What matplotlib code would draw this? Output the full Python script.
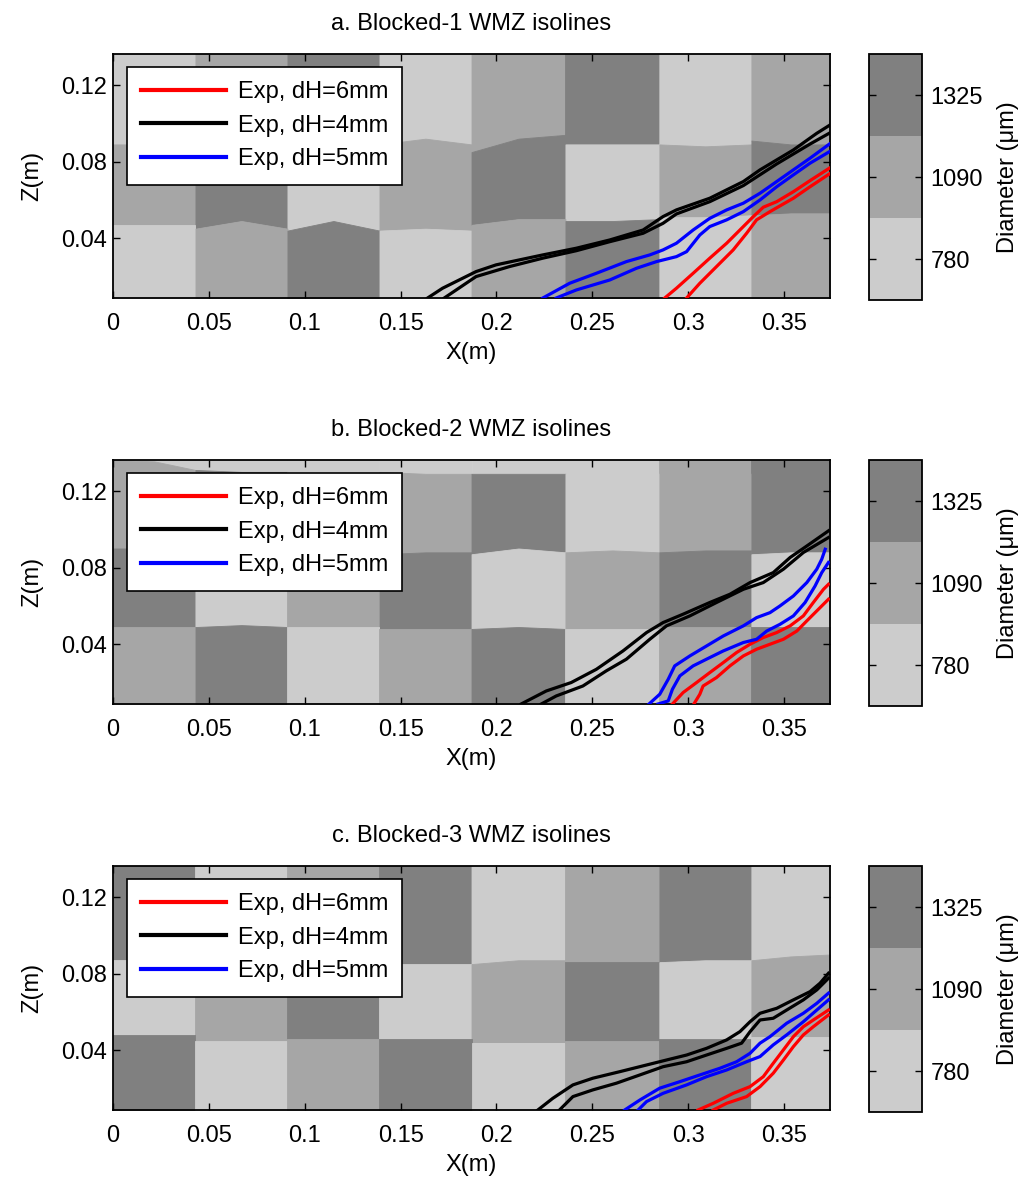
import numpy as np
import matplotlib
matplotlib.use("Agg")
import matplotlib.pyplot as plt
from matplotlib.colors import ListedColormap, BoundaryNorm
from matplotlib.cm import ScalarMappable

plt.rcParams['font.family'] = ['Liberation Sans', 'DejaVu Sans']

# grain diameter classes (light -> dark)
GRAYS = ['#cccccc', '#a6a6a6', '#808080']
CLASS_LABELS = ['780', '1090', '1325']

X_EDGES = [0, 0.043, 0.091, 0.139, 0.187, 0.236, 0.285, 0.333, 0.374]
Z_LIM = (0.0088, 0.1362)
X_TICKS = [0, 0.05, 0.1, 0.15, 0.2, 0.25, 0.3, 0.35]
X_TICKLABELS = ['0', '0.05', '0.1', '0.15', '0.2', '0.25', '0.3', '0.35']
Z_TICKS = [0.04, 0.08, 0.12]
Z_TICKLABELS = ['0.04', '0.08', '0.12']

TITLES = ['a. Blocked-1 WMZ isolines', 'b. Blocked-2 WMZ isolines', 'c. Blocked-3 WMZ isolines']
LEGEND_LABELS = ['Exp, dH=6mm', 'Exp, dH=4mm', 'Exp, dH=5mm']

# ---- panel a : block classes (rows top -> bottom) and row boundaries (left, mid, right of each column)
A_ROWS = [[0, 1, 2, 0, 1, 2, 0, 1],
          [1, 2, 0, 1, 2, 0, 1, 2],
          [0, 1, 2, 0, 1, 2, 0, 1]]
A_BOUNDS = [
    [(0.089, 0.089, 0.088), (0.088, 0.091, 0.089), (0.088, 0.091, 0.089), (0.089, 0.092, 0.089),
     (0.085, 0.092, 0.094), (0.089, 0.089, 0.089), (0.089, 0.088, 0.089), (0.091, 0.089, 0.089)],
    [(0.047, 0.047, 0.047), (0.045, 0.049, 0.045), (0.044, 0.049, 0.044), (0.044, 0.045, 0.044),
     (0.047, 0.050, 0.050), (0.049, 0.049, 0.050), (0.051, 0.051, 0.052), (0.052, 0.053, 0.053)],
]

# ---- panel b (thin light band on top of columns 0-4)
B_ROWS = [[0, 0, 0, 0, 0, 0, 1, 2],
          [1, 2, 0, 1, 2, 0, 1, 2],
          [2, 0, 1, 2, 0, 1, 2, 0],
          [1, 2, 0, 1, 2, 0, 1, 2]]
B_BOUNDS = [
    [(0.1362, 0.1355, 0.131), (0.131, 0.130, 0.130), (0.130, 0.130, 0.130), (0.130, 0.129, 0.129),
     (0.129, 0.129, 0.129), (0.129, 0.129, 0.129), (0.129, 0.129, 0.129), (0.129, 0.129, 0.129)],
    [(0.090, 0.090, 0.089), (0.089, 0.089, 0.089), (0.088, 0.088, 0.088), (0.087, 0.088, 0.088),
     (0.087, 0.090, 0.088), (0.088, 0.089, 0.088), (0.088, 0.089, 0.089), (0.087, 0.088, 0.088)],
    [(0.049, 0.049, 0.049), (0.049, 0.050, 0.049), (0.049, 0.049, 0.049), (0.048, 0.048, 0.048),
     (0.048, 0.049, 0.048), (0.048, 0.048, 0.048), (0.049, 0.049, 0.049), (0.049, 0.049, 0.049)],
]

# ---- panel c
C_ROWS = [[2, 0, 1, 2, 0, 1, 2, 0],
          [0, 1, 2, 0, 1, 2, 0, 1],
          [2, 0, 1, 2, 0, 1, 2, 0]]
C_BOUNDS = [
    [(0.087, 0.087, 0.087), (0.088, 0.088, 0.088), (0.087, 0.087, 0.087), (0.085, 0.085, 0.085),
     (0.085, 0.087, 0.087), (0.086, 0.086, 0.086), (0.086, 0.087, 0.087), (0.087, 0.089, 0.090)],
    [(0.048, 0.048, 0.048), (0.045, 0.045, 0.045), (0.046, 0.046, 0.046), (0.046, 0.046, 0.046),
     (0.044, 0.044, 0.044), (0.045, 0.045, 0.045), (0.046, 0.046, 0.046), (0.047, 0.047, 0.047)],
]

# ---- isolines (x, z)
A_RED_1 = [(0.2878, 0.0088), (0.2939, 0.0139), (0.3026, 0.0217), (0.3113, 0.0296), (0.3201, 0.0374),
           (0.3288, 0.0461), (0.3340, 0.0513), (0.3392, 0.0562), (0.3462, 0.0591), (0.3549, 0.0643),
           (0.3636, 0.0701), (0.3737, 0.0766)]
A_RED_2 = [(0.2992, 0.0088), (0.3061, 0.0165), (0.3148, 0.0252), (0.3235, 0.0339), (0.3305, 0.0426),
           (0.3357, 0.0496), (0.3427, 0.0539), (0.3549, 0.0609), (0.3636, 0.0669), (0.3737, 0.0736)]
A_BLACK_1 = [(0.1641, 0.0088), (0.1719, 0.0139), (0.1894, 0.0226), (0.1998, 0.0261), (0.2242, 0.0313),
             (0.2417, 0.0348), (0.2591, 0.0391), (0.2765, 0.0443), (0.2869, 0.0513), (0.2939, 0.0548),
             (0.3113, 0.0609), (0.3288, 0.0696), (0.3375, 0.0757), (0.3549, 0.0861), (0.3671, 0.0948),
             (0.3741, 0.0992)]
A_BLACK_2 = [(0.1728, 0.0088), (0.1894, 0.0200), (0.2068, 0.0252), (0.2242, 0.0296), (0.2417, 0.0335),
             (0.2591, 0.0382), (0.2765, 0.0426), (0.2869, 0.0478), (0.2939, 0.0527), (0.3113, 0.0591),
             (0.3288, 0.0675), (0.3462, 0.0788), (0.3636, 0.0892), (0.3741, 0.0951)]
A_BLUE_1 = [(0.2242, 0.0088), (0.2382, 0.0165), (0.2521, 0.0217), (0.2678, 0.0278), (0.2800, 0.0313),
            (0.2869, 0.0339), (0.2939, 0.0374), (0.3026, 0.0443), (0.3113, 0.0504), (0.3201, 0.0548),
            (0.3288, 0.0583), (0.3375, 0.0635), (0.3462, 0.0696), (0.3549, 0.0757), (0.3636, 0.0818),
            (0.3737, 0.0892)]
A_BLUE_2 = [(0.2312, 0.0088), (0.2417, 0.0130), (0.2591, 0.0182), (0.2730, 0.0243), (0.2835, 0.0278),
            (0.2939, 0.0304), (0.2992, 0.0330), (0.3061, 0.0417), (0.3113, 0.0461), (0.3201, 0.0496),
            (0.3288, 0.0539), (0.3375, 0.0600), (0.3462, 0.0669), (0.3549, 0.0731), (0.3636, 0.0792),
            (0.3737, 0.0852)]

B_RED_1 = [(0.2918, 0.0088), (0.2974, 0.0148), (0.3044, 0.0200), (0.3113, 0.0252), (0.3183, 0.0304),
           (0.3253, 0.0357), (0.3323, 0.0400), (0.3392, 0.0435), (0.3462, 0.0461), (0.3532, 0.0496),
           (0.3601, 0.0548), (0.3653, 0.0618), (0.3706, 0.0687), (0.3732, 0.0713)]
B_RED_2 = [(0.3030, 0.0088), (0.3061, 0.0139), (0.3078, 0.0182), (0.3148, 0.0226), (0.3218, 0.0287),
           (0.3288, 0.0339), (0.3357, 0.0374), (0.3427, 0.0400), (0.3497, 0.0426), (0.3567, 0.0469),
           (0.3619, 0.0522), (0.3688, 0.0591), (0.3732, 0.0635)]
B_BLACK_1 = [(0.2129, 0.0088), (0.2260, 0.0156), (0.2390, 0.0200), (0.2521, 0.0269), (0.2660, 0.0365),
             (0.2783, 0.0461), (0.2869, 0.0513), (0.2974, 0.0557), (0.3113, 0.0618), (0.3218, 0.0661),
             (0.3323, 0.0722), (0.3444, 0.0774), (0.3532, 0.0853), (0.3619, 0.0913), (0.3732, 0.0992)]
B_BLACK_2 = [(0.2234, 0.0088), (0.2312, 0.0130), (0.2451, 0.0182), (0.2573, 0.0261), (0.2678, 0.0322),
             (0.2800, 0.0426), (0.2887, 0.0496), (0.3009, 0.0548), (0.3148, 0.0618), (0.3288, 0.0687),
             (0.3392, 0.0722), (0.3497, 0.0792), (0.3601, 0.0879), (0.3732, 0.0957)]
B_BLUE_1 = [(0.2796, 0.0088), (0.2852, 0.0139), (0.2896, 0.0217), (0.2930, 0.0287), (0.3009, 0.0339),
            (0.3096, 0.0391), (0.3183, 0.0443), (0.3288, 0.0496), (0.3357, 0.0539), (0.3427, 0.0565),
            (0.3479, 0.0600), (0.3549, 0.0652), (0.3619, 0.0722), (0.3671, 0.0792), (0.3697, 0.0844),
            (0.3715, 0.0896)]
B_BLUE_2 = [(0.2843, 0.0088), (0.2896, 0.0104), (0.2918, 0.0165), (0.2957, 0.0235), (0.3026, 0.0287),
            (0.3096, 0.0322), (0.3183, 0.0365), (0.3288, 0.0409), (0.3357, 0.0426), (0.3410, 0.0469),
            (0.3479, 0.0504), (0.3549, 0.0548), (0.3610, 0.0618), (0.3662, 0.0704), (0.3697, 0.0774),
            (0.3732, 0.0827)]

C_RED_1 = [(0.3052, 0.0088), (0.3131, 0.0123), (0.3235, 0.0175), (0.3323, 0.0210), (0.3392, 0.0262),
           (0.3444, 0.0332), (0.3497, 0.0402), (0.3549, 0.0471), (0.3601, 0.0523), (0.3653, 0.0558),
           (0.3732, 0.0610)]
C_RED_2 = [(0.3131, 0.0088), (0.3201, 0.0123), (0.3305, 0.0158), (0.3375, 0.0210), (0.3444, 0.0280),
           (0.3497, 0.0349), (0.3549, 0.0419), (0.3601, 0.0480), (0.3653, 0.0523), (0.3732, 0.0584)]
C_BLACK_1 = [(0.2216, 0.0088), (0.2294, 0.0149), (0.2399, 0.0219), (0.2503, 0.0254), (0.2643, 0.0288),
             (0.2783, 0.0323), (0.2887, 0.0349), (0.2992, 0.0375), (0.3096, 0.0410), (0.3201, 0.0454),
             (0.3270, 0.0497), (0.3323, 0.0549), (0.3375, 0.0593), (0.3462, 0.0619), (0.3549, 0.0663),
             (0.3636, 0.0706), (0.3688, 0.0750), (0.3732, 0.0802)]
C_BLACK_2 = [(0.2329, 0.0088), (0.2347, 0.0106), (0.2399, 0.0158), (0.2503, 0.0193), (0.2626, 0.0228),
             (0.2748, 0.0271), (0.2869, 0.0314), (0.2992, 0.0340), (0.3096, 0.0375), (0.3201, 0.0410),
             (0.3279, 0.0437), (0.3323, 0.0497), (0.3375, 0.0558), (0.3444, 0.0567), (0.3514, 0.0610),
             (0.3601, 0.0663), (0.3671, 0.0715), (0.3732, 0.0776)]
C_BLUE_1 = [(0.2669, 0.0088), (0.2748, 0.0140), (0.2852, 0.0202), (0.2957, 0.0236), (0.3061, 0.0271),
            (0.3166, 0.0306), (0.3253, 0.0340), (0.3323, 0.0384), (0.3375, 0.0437), (0.3427, 0.0471),
            (0.3514, 0.0541), (0.3601, 0.0593), (0.3671, 0.0645), (0.3732, 0.0698)]
C_BLUE_2 = [(0.2739, 0.0088), (0.2783, 0.0132), (0.2869, 0.0175), (0.2992, 0.0219), (0.3096, 0.0262),
            (0.3201, 0.0297), (0.3305, 0.0340), (0.3375, 0.0367), (0.3444, 0.0428), (0.3514, 0.0480),
            (0.3601, 0.0549), (0.3671, 0.0610), (0.3732, 0.0663)]

PANELS = [
    (A_ROWS, A_BOUNDS, [A_RED_1, A_RED_2], [A_BLACK_1, A_BLACK_2], [A_BLUE_1, A_BLUE_2]),
    (B_ROWS, B_BOUNDS, [B_RED_1, B_RED_2], [B_BLACK_1, B_BLACK_2], [B_BLUE_1, B_BLUE_2]),
    (C_ROWS, C_BOUNDS, [C_RED_1, C_RED_2], [C_BLACK_1, C_BLACK_2], [C_BLUE_1, C_BLUE_2]),
]

W, H = 1033, 1183
FS = 17


def px_box(left, top, width, height):
    return [left / W, 1 - (top + height) / H, width / W, height / H]


def draw_blocks(ax, rows, bounds):
    ncol = len(X_EDGES) - 1
    top = [(Z_LIM[1],) * 3] * ncol
    bottom = [(Z_LIM[0],) * 3] * ncol
    lines = [top] + bounds + [bottom]
    for i, row in enumerate(rows):
        for j in range(ncol):
            xl, xr = X_EDGES[j], X_EDGES[j + 1]
            xs = [xl, (xl + xr) / 2, xr]
            ax.fill_between(xs, lines[i + 1][j], lines[i][j], color=GRAYS[row[j]],
                            lw=0.6, edgecolor=GRAYS[row[j]], zorder=1)


def draw_panel(ax, k):
    rows, bounds, reds, blacks, blues = PANELS[k]
    draw_blocks(ax, rows, bounds)
    handles = []
    for group, col in [(reds, 'red'), (blacks, 'black'), (blues, 'blue')]:
        for n, pts in enumerate(group):
            pts = np.array(pts)
            l, = ax.plot(pts[:, 0], pts[:, 1], color=col, lw=2.3, zorder=3)
            if n == 0:
                handles.append(l)

    ax.set_xlim(0, X_EDGES[-1])
    ax.set_ylim(*Z_LIM)
    ax.set_xticks(X_TICKS)
    ax.set_xticklabels(X_TICKLABELS)
    ax.set_yticks(Z_TICKS)
    ax.set_yticklabels(Z_TICKLABELS)
    ax.tick_params(direction='in', top=True, right=True, length=5, width=1, labelsize=FS)
    ax.tick_params(axis='x', pad=11)
    ax.tick_params(axis='y', pad=4)
    for s in ax.spines.values():
        s.set_linewidth(1.3)
    ax.set_xlabel('X(m)', fontsize=FS, labelpad=5)
    ax.set_ylabel('Z(m)', fontsize=FS, labelpad=13)
    ax.set_title(TITLES[k], fontsize=FS, pad=17)

    leg = ax.legend(handles, LEGEND_LABELS, loc='upper left', bbox_to_anchor=(0.0195, 0.948),
                    borderaxespad=0, fontsize=FS, handlelength=3.6, handletextpad=0.5,
                    borderpad=0.6, labelspacing=0.5, fancybox=False, framealpha=1,
                    edgecolor='black')
    leg.get_frame().set_linewidth(1.2)
    for lh in leg.get_lines():
        lh.set_linewidth(3)


def draw_colorbar(fig, top):
    cax = fig.add_axes(px_box(869, top, 53, 246))
    sm = ScalarMappable(norm=BoundaryNorm([0, 1, 2, 3], 3), cmap=ListedColormap(GRAYS))
    cb = fig.colorbar(sm, cax=cax, ticks=[0.5, 1.5, 2.5])
    cb.minorticks_off()
    cb.set_ticklabels(CLASS_LABELS)
    cb.ax.tick_params(which='both', direction='in', left=True, right=True, length=5, width=1,
                      labelsize=FS, pad=6)
    cb.outline.set_linewidth(1.3)
    cb.set_label('Diameter (μm)', fontsize=FS, labelpad=10)


def main():
    fig = plt.figure(figsize=(W / 100, H / 100), dpi=100)
    tops = [54, 460, 866]
    for k, top in enumerate(tops):
        ax = fig.add_axes(px_box(113, top, 717, 244))
        draw_panel(ax, k)
        draw_colorbar(fig, top)
    fig.savefig('out.png', dpi=100, facecolor='white')


if __name__ == "__main__":
    main()
